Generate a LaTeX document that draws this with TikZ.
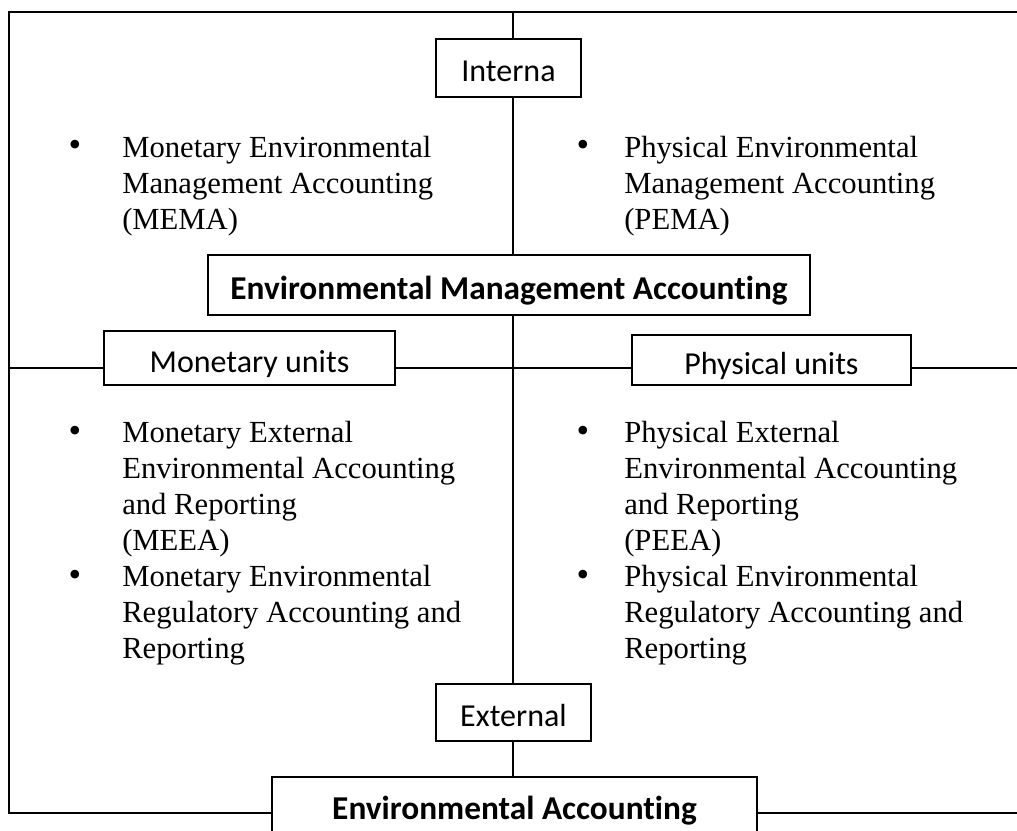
\documentclass[tikz,border=0pt]{standalone}
\usepackage{fontspec}
\setmainfont{Liberation Serif}
\newfontfamily\boxfont[Ligatures=NoCommon]{Carlito}
\usetikzlibrary{positioning}

\newlength{\pxu}
\setlength{\pxu}{0.75pt}

\begin{document}
\begin{tikzpicture}[x=0.75pt, y=-0.75pt,
  box/.style={draw, line width=1pt, fill=white, inner sep=0pt,
    text height=21pt, text depth=0pt,
    font=\boxfont\fontsize{24}{28}\selectfont},
  boldbox/.style={box, text height=22pt,
    font=\boxfont\bfseries\fontsize{25}{30}\selectfont},
  frame/.style={line width=1.2pt},
  link/.style={line width=0.8pt},
  item/.style={anchor=base west, align=left, inner sep=0pt,
    font=\fontsize{23}{27}\selectfont},
  dot/.style={anchor=base, inner sep=0pt, font=\fontsize{27}{27}\selectfont}]

  \clip (0,0) rectangle (1017,831);

  % Caixas
  \node[box, minimum width=145\pxu, minimum height=58\pxu] (int) at (508.5,68) {Interna};
  \node[boldbox, minimum width=602\pxu, minimum height=60\pxu] (ema) at (509,285)
    {Environmental Management Accounting};
  \node[box, minimum width=291\pxu, minimum height=54\pxu] (mon) at (249.5,358) {Monetary units};
  \node[box, minimum width=279\pxu, minimum height=50\pxu] (phy) at (771.5,360) {Physical units};
  \node[box, minimum width=155\pxu, minimum height=57\pxu] (ext) at (513.5,712.5) {External};
  \node[boldbox, minimum width=485\pxu, minimum height=56\pxu] (ea) at (514.5,805)
    {Environmental Accounting};

  % Quadro externo
  \coordinate (TL) at (9,12);
  \coordinate (TR) at (1017,12);
  \coordinate (BL) at (9,813);
  \coordinate (BR) at (1017,813);
  \draw[frame] (TR) -- (TL) -- (BL) -- (BL -| ea.west);
  \draw[frame] (ea.east |- BR) -- (BR);

  % Eixo vertical
  \coordinate (sp) at (513,12);
  \draw[link] (sp) -- (sp |- int.north);
  \draw[link] (sp |- int.south) -- (sp |- ema.north);
  \draw[link] (sp |- ema.south) -- (sp |- ext.north);
  \draw[link] (sp |- ext.south) -- (sp |- ea.north);

  % Eixo horizontal
  \coordinate (ML) at (9,368);
  \coordinate (MR) at (1017,368);
  \draw[frame] (ML) -- (ML -| mon.west);
  \draw[frame] (ML -| mon.east) -- (ML -| phy.west);
  \draw[frame] (ML -| phy.east) -- (MR);

  % Quadrantes de cima (base = ultima linha)
  \node[dot] (d1) at (75,157) {\textbullet};
  \node[item] (t1) at (122,229)
    {Monetary Environmental\\Management Accounting\\(MEMA)};
  \node[dot] (d2) at (583,157) {\textbullet};
  \node[item] (t2) at (624,229)
    {Physical Environmental\\Management Accounting\\(PEMA)};

  % Quadrantes de baixo
  \node[dot] (d3) at (75,442) {\textbullet};
  \node[item] (t3) at (122,550)
    {Monetary External\\Environmental Accounting\\and Reporting\\(MEEA)};
  \node[dot] (d4) at (75,586) {\textbullet};
  \node[item] (t4) at (122,658)
    {Monetary Environmental\\Regulatory Accounting and\\Reporting};
  \node[dot] (d5) at (583,442) {\textbullet};
  \node[item] (t5) at (624,550)
    {Physical External\\Environmental Accounting\\and Reporting\\(PEEA)};
  \node[dot] (d6) at (583,586) {\textbullet};
  \node[item] (t6) at (624,658)
    {Physical Environmental\\Regulatory Accounting and\\Reporting};

\end{tikzpicture}
\end{document}
